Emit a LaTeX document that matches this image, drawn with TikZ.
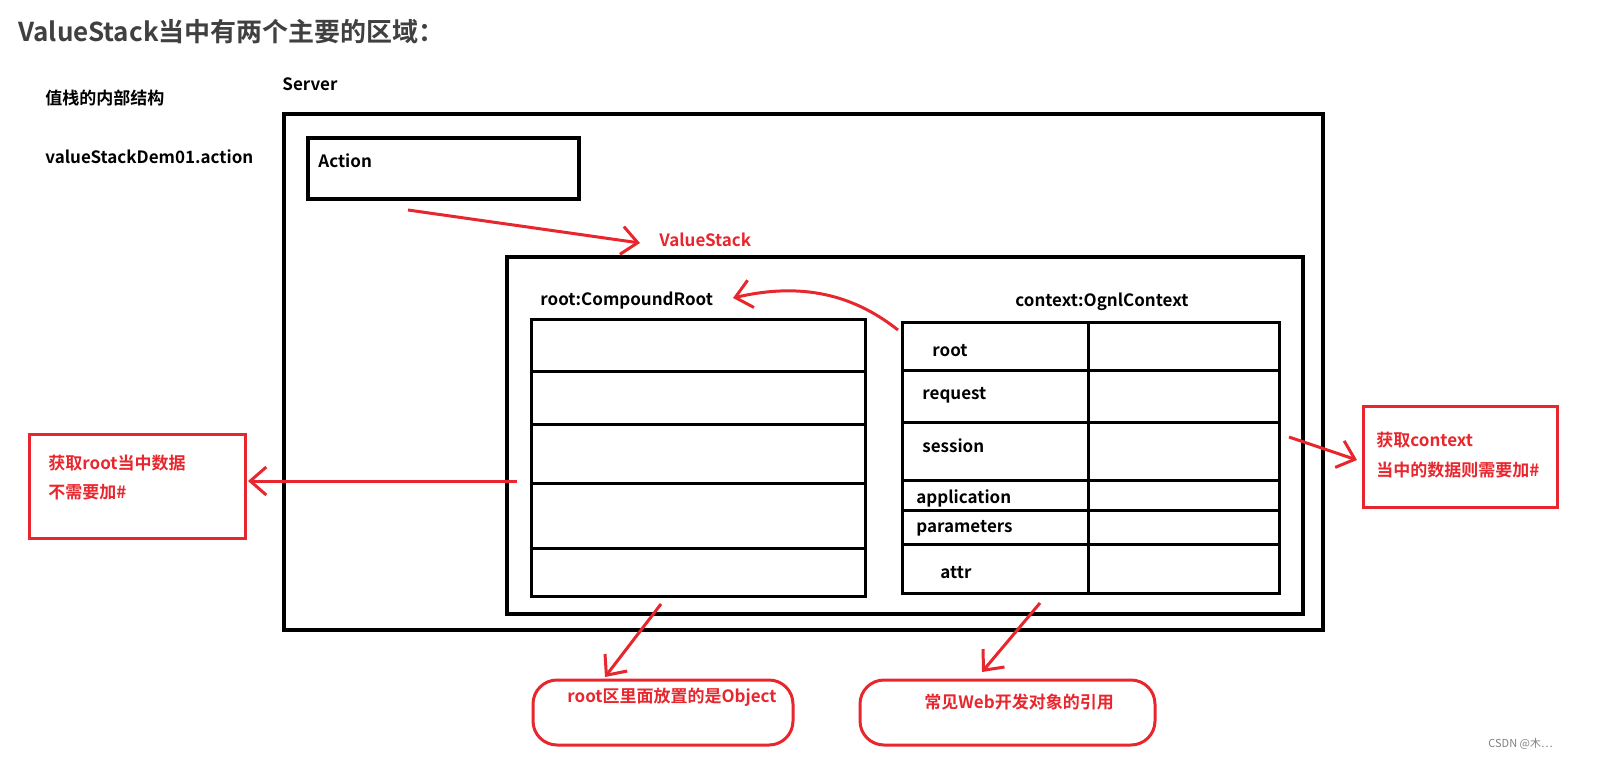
\documentclass[tikz,border=0pt]{standalone}
\usepackage{fontspec}
\setmainfont{Noto Sans CJK SC}[BoldFont={* Bold}]
\usetikzlibrary{arrows.meta}
\definecolor{rd}{HTML}{E8262D}
\begin{document}
\begin{tikzpicture}[x=0.5pt,y=-0.5pt,
 blk/.style={draw=black,line width=2pt},
 thin/.style={draw=black,line width=1.5pt},
 rbox/.style={draw=rd,line width=1.5pt},
 rarr/.style={draw=rd,line width=1.5pt,-{Straight Barb[length=8pt,width=14pt,line width=1.5pt]}},
 t/.style={anchor=west,font=\bfseries\fontsize{8.5}{10}\selectfont,inner sep=0pt},
 rt/.style={t,text=rd}]
\useasboundingbox (0,0) rectangle (1597,772);
\node[t,anchor=west,text=black!75,font=\bfseries\fontsize{13}{15}\selectfont] (title) at (18,32) {ValueStack当中有两个主要的区域：};
\node[t] (jg) at (45,98) {值栈的内部结构};
\node[t] (srv) at (282,84) {Server};
\node[t] (act) at (45,157) {valueStackDem01.action};
\draw[blk] (284,114) rectangle (1323,630);
\draw[blk] (308,138) rectangle (579,199);
\node[t] (action) at (318,161) {Action};
\coordinate (a1) at (408,210); \coordinate (a2) at (640,243);
\draw[rarr] (a1) -- (a2);
\node[rt] (vs) at (659,240) {ValueStack};
\draw[blk] (507,257) rectangle (1303,614);
\node[t] (cr) at (540,301) {root:CompoundRoot};
\draw[thin] (531,319) rectangle (865,596);
\foreach \y in {371,424,483,548} \draw[thin] (531,\y) -- (865,\y);
\node[t] (oc) at (1015,302) {context:OgnlContext};
\draw[thin] (902,322) rectangle (1279,593);
\draw[thin] (1088,322) -- (1088,593);
\foreach \y in {370,422,480,510,544} \draw[thin] (902,\y) -- (1279,\y);
\node[t] at (932,351) {root};
\node[t] at (922,395) {request};
\node[t] at (922,446) {session};
\node[t] at (916,498) {application};
\node[t] at (916,528) {parameters};
\node[t] at (940,573) {attr};
\coordinate (c1) at (898,330); \coordinate (c2) at (733,298);
\draw[rarr] (c1) .. controls (860,300) and (810,280) .. (c2);
\coordinate (l1) at (517,481); \coordinate (l2) at (248,481);
\draw[rarr] (l1) -- (l2);
\draw[rbox] (29,434) rectangle (245,538);
\node[rt] at (48,463) {获取root当中数据};
\node[rt] at (48,492) {不需要加\#};
\coordinate (r1) at (1289,437); \coordinate (r2) at (1357,460);
\draw[rarr] (r1) -- (r2);
\draw[rbox] (1363,406) rectangle (1557,507);
\node[rt] at (1376,440) {获取context};
\node[rt] at (1376,470) {当中的数据则需要加\#};
\coordinate (b1) at (661,604); \coordinate (b2) at (605,677);
\draw[rarr] (b1) -- (b2);
\draw[rbox,rounded corners=12pt] (533,680) rectangle (793,745);
\node[rt] at (567,697) {root区里面放置的是Object};
\coordinate (d1) at (1040,603); \coordinate (d2) at (982,672);
\draw[rarr] (d1) -- (d2);
\draw[rbox,rounded corners=12pt] (860,680) rectangle (1155,745);
\node[rt] at (924,702) {常见Web开发对象的引用};
\node[t,font=\fontsize{5.5}{7}\selectfont,text=black!50] at (1488,744) {CSDN @木⋯};
\end{tikzpicture}
\end{document}
